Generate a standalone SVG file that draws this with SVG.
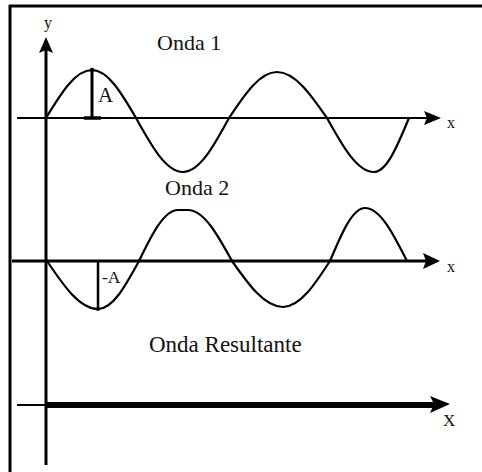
<svg xmlns="http://www.w3.org/2000/svg" width="482" height="472" viewBox="0 0 482 472">
<defs>
<style>
.ln{stroke:#000;fill:none;stroke-linecap:butt}
.wave{stroke:#000;fill:none;stroke-width:2.2;stroke-linejoin:round}
.ah{fill:#000;stroke:none}
.t{font-family:"Liberation Serif","Times New Roman",serif;fill:#111}
</style>
</defs>
<rect x="0" y="0" width="482" height="472" fill="#fff"/>
<g id="frame">
<line class="ln" x1="9" y1="6" x2="482" y2="6" stroke-width="3"/>
<line class="ln" x1="10" y1="5" x2="10" y2="472" stroke-width="3"/>
</g>
<g id="connectors">
<g id="y-axis">
<line class="ln" x1="46" y1="50" x2="46" y2="465" stroke-width="3"/>
<polygon class="ah" points="46,37 53,53 46,50 39,53"/>
</g>
<g id="axis-onda1">
<line class="ln" x1="17" y1="118" x2="428" y2="118" stroke-width="2"/>
<polygon class="ah" points="424,111 441,118 424,125 427,118"/>
</g>
<g id="axis-onda2">
<line class="ln" x1="12" y1="261" x2="428" y2="261" stroke-width="3"/>
<polygon class="ah" points="423,253 440,261 423,269 426,261"/>
</g>
<g id="axis-resultante">
<line class="ln" x1="17" y1="405" x2="46" y2="405" stroke-width="2"/>
<line class="ln" x1="46" y1="405" x2="434" y2="405" stroke-width="6"/>
<polygon class="ah" points="430,396 450,404 430,413 434,404"/>
</g>
</g>
<g id="onda1">
<path class="wave" d="M46,118 C61,93.4 75.3,70 92,70 C107.9,70 121.7,93.4 136,118 C151.3,145.6 166,172 183,172 C199.7,172 214,145.6 229,118 C244.6,94.4 259.6,72 277,72 C295.1,72 310.7,94.4 327,118 C342.3,145.6 357,172 374,172 C386.7,172 397.6,145.6 409,118"/>
<line class="ln" x1="92" y1="70" x2="92" y2="118" stroke-width="3"/>
<line class="ln" x1="84" y1="118" x2="101" y2="118" stroke-width="3.5"/>
<circle cx="92" cy="70" r="2.2" fill="#000"/>
<text class="t" x="157" y="50" font-size="22">Onda 1</text>
<text class="t" x="98" y="102" font-size="21">A</text>
<text class="t" x="447" y="128" font-size="16">x</text>
<text class="t" x="44" y="28" font-size="16">y</text>
</g>
<g id="onda2">
<path class="wave" stroke-width="3" d="M47,261 C63.6,285.6 79.5,309 98,309 C112.8,309 125.6,285.6 139,261 C151.7,234.9 163.9,210 178,210 L188,210 C203.9,210 217.7,234.9 232,261"/>
<path class="wave" d="M232,261 C248.6,284.6 264.5,307 283,307 C300,307 314.7,284.6 330,261 C341.4,233.9 352.3,208 365,208 C380.2,208 393.3,233.9 407,261"/>
<line class="ln" x1="98" y1="261" x2="98" y2="309" stroke-width="2.5"/>
<circle cx="98" cy="309" r="2" fill="#000"/>
<text class="t" x="165" y="195" font-size="22">Onda 2</text>
<text class="t" x="102" y="283" font-size="17.5">-A</text>
<text class="t" x="447" y="272" font-size="16">x</text>
</g>
<g id="resultante">
<text class="t" x="149" y="352" font-size="23">Onda Resultante</text>
<text class="t" x="443" y="426" font-size="17">X</text>
</g>
</svg>
